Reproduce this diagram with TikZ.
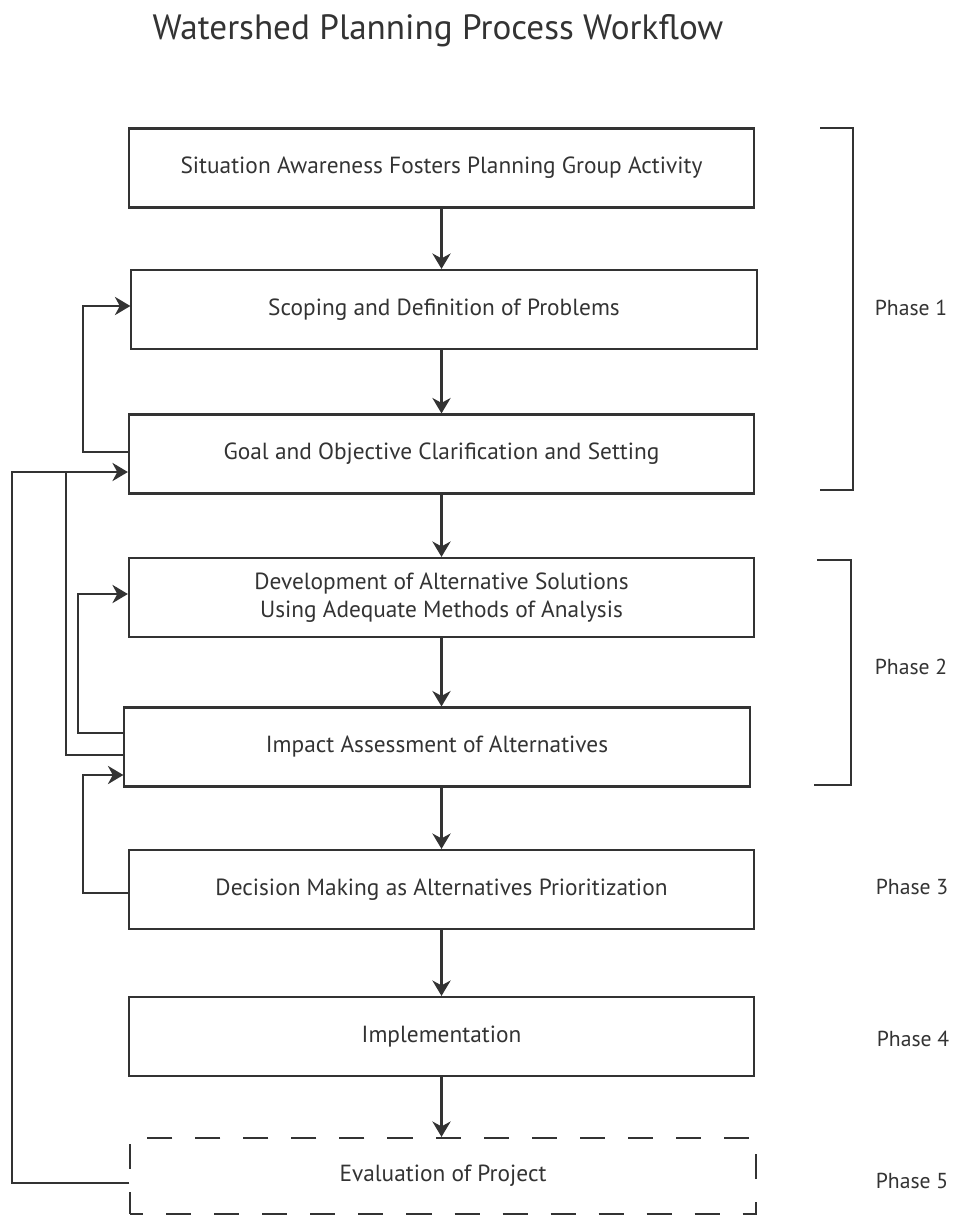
\documentclass[tikz,border=0pt]{standalone}
\usepackage{fontspec}
\setmainfont{PT Sans}
\usetikzlibrary{arrows.meta, calc}

\begin{document}
\begin{tikzpicture}[x=0.025cm, y=-0.025cm, line width=1.5pt, color=black!80,
	tip/.style={-{Stealth[length=11pt, width=13pt, inset=3.5pt]}},
	step box/.style={draw, minimum width=15.625cm, minimum height=1.975cm, inner sep=0pt, align=center, font=\fontsize{16.6}{19.9}\selectfont},
	phase node/.style={font=\fontsize{15.4}{18}\selectfont}]
\useasboundingbox (0,0) rectangle (956,1215);

\node				(title)	at (438,31)		{\fontsize{25}{30}\selectfont Watershed Planning Process Workflow};

\node	[step box]		(situ)	at (441.5,168)	{Situation Awareness Fosters Planning Group Activity};
\node	[step box]		(scope)	at (444,309.5)	{Scoping and Definition of Problems};
\node	[step box]		(goal)	at (441.5,454)	{Goal and Objective Clarification and Setting};
\node	[step box]		(devel)	at (441.5,597.5)	{Development of Alternative Solutions\\Using Adequate Methods of Analysis};
\node	[step box]		(impact)	at (437,747)	{Impact Assessment of Alternatives};
\node	[step box]		(decide)	at (441.5,889.5)	{Decision Making as Alternatives Prioritization};
\node	[step box]		(implem)	at (441.5,1036.5)	{Implementation};
\node	[step box, minimum height=1.9cm, dash pattern=on 0.625cm off 0.575cm, dash phase=0.3cm]
					(evalu)	at (443,1176)	{Evaluation of Project};

% downward flow
\draw [tip] (situ.south) -- (situ.south |- scope.north);
\draw [tip] (goal.south |- scope.south) -- (goal.north);
\draw [tip] (goal.south) -- (devel.north);
\draw [tip] (devel.south) -- (devel.south |- impact.north);
\draw [tip] (decide.north |- impact.south) -- (decide.north);
\draw [tip] (decide.south) -- (implem.north);
\draw [tip] (implem.south) -- (implem.south |- evalu.north);

% feedback loops
\coordinate (join) at (66,472);
\draw [tip] ($(goal.west)+(0,-2)$) -- ++(-45,0) |- ($(scope.west)+(0,-3.5)$);
\draw [tip] ($(evalu.west)+(0,7)$) -- ++(-117,0) |- ($(goal.west)+(0,18)$);
\draw ($(impact.west)+(0,8)$) -| (join);
\draw [tip] ($(impact.west)+(0,-14)$) -- ++(-45,0) |- ($(devel.west)+(0,-3.5)$);
\draw [tip] ($(decide.west)+(0,3.5)$) -- ++(-45,0) |- ($(impact.west)+(0,28)$);

% phases
\node	[phase node]	(p1)	at (911,308)	{Phase 1};
\node	[phase node]	(p2)	at (911,667)	{Phase 2};
\node	[phase node]	(p3)	at (912,887)	{Phase 3};
\node	[phase node]	(p4)	at (913,1039)	{Phase 4};
\node	[phase node]	(p5)	at (912,1181)	{Phase 5};
\draw (820,128) -- (853,128) -- (853,490) -- (820,490);
\draw (817,560) -- (851,560) -- (851,785) -- (814,785);
\end{tikzpicture}
\end{document}
